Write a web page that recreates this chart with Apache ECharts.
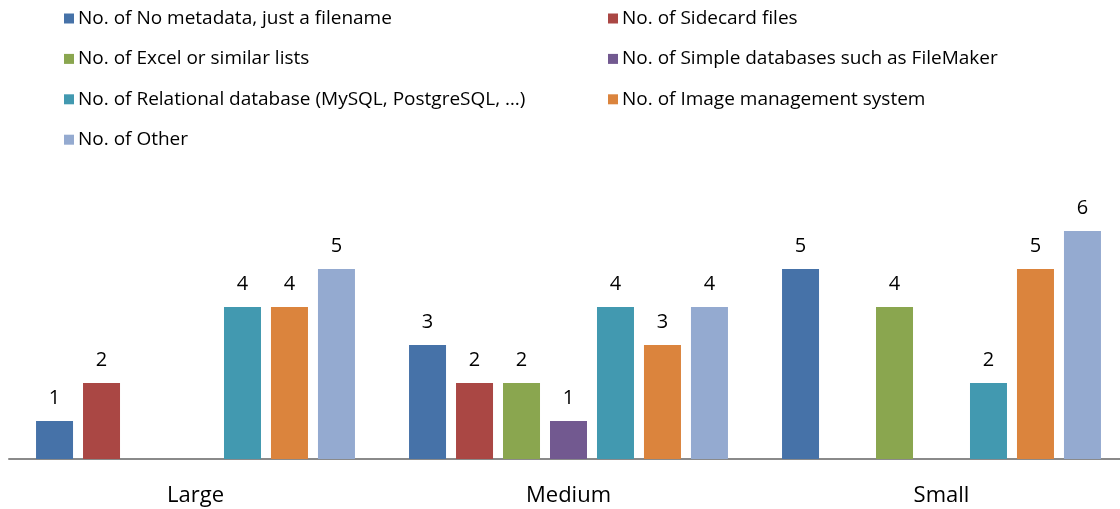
<!DOCTYPE html>
<html>
<head>
<meta charset="utf-8">
<script src="https://cdn.jsdelivr.net/npm/echarts@6/dist/echarts.min.js"></script>
<style>
  html, body { margin: 0; padding: 0; background: #fff; }
  #chart { width: 1120px; height: 509px; }
</style>
</head>
<body>
<div id="chart"></div>
<script>
// chart data
var categories = ['Large', 'Medium', 'Small']
var seriesNames = [
  'No. of No metadata, just a filename',
  'No. of Sidecard files',
  'No. of Excel or similar lists',
  'No. of Simple databases such as FileMaker',
  'No. of Relational database (MySQL, PostgreSQL, …)',
  'No. of Image management system',
  'No. of Other'
]
var noMetadata = [1, 3, 5]
var sidecard = [2, 2, null]
var excelLists = [null, 2, 4]
var simpleDb = [null, 1, null]
var relationalDb = [4, 4, 2]
var imageMgmt = [4, 3, 5]
var other = [5, 4, 6]

var colors = ['#4672A8', '#AA4744', '#8AA64F', '#725990', '#4299B0', '#DB843D', '#94AAD0']
var allValues = [noMetadata, sidecard, excelLists, simpleDb, relationalDb, imageMgmt, other]
var font = '"Open Sans", sans-serif'

var chart = echarts.init(document.getElementById('chart'))

var series = seriesNames.map(function (name, i) {
  return {
    name: name,
    type: 'bar',
    data: allValues[i],
    barWidth: 37,
    barGap: '27%',
    itemStyle: { color: colors[i] },
    label: {
      show: true,
      position: 'top',
      distance: 13,
      color: '#000',
      fontSize: 20,
      fontFamily: font
    }
  }
})

var legendCommon = {
  orient: 'vertical',
  itemWidth: 10,
  itemHeight: 10,
  itemGap: 21.4,
  icon: 'rect',
  textStyle: { fontSize: 19, color: '#000', fontFamily: font, padding: [0, 0, 0, -1] }
}

chart.setOption({
  animation: false,
  legend: [
    Object.assign({}, legendCommon, {
      left: 59,
      top: 4,
      data: [seriesNames[0], seriesNames[2], seriesNames[4], seriesNames[6]]
    }),
    Object.assign({}, legendCommon, {
      left: 603,
      top: 4,
      data: [seriesNames[1], seriesNames[3], seriesNames[5]]
    })
  ],
  grid: {
    left: 9,
    width: 1119,
    top: 193,
    bottom: 50,
    outerBoundsMode: 'none',
    containLabel: false
  },
  xAxis: {
    type: 'category',
    data: categories,
    axisLine: { lineStyle: { color: '#8a8a8a', width: 2 } },
    axisTick: { show: false },
    axisLabel: { color: '#000', fontSize: 22, fontFamily: font, margin: 26 }
  },
  yAxis: {
    type: 'value',
    min: 0,
    max: 7,
    show: false,
    splitLine: { show: false }
  },
  series: series
})
</script>
</body>
</html>
